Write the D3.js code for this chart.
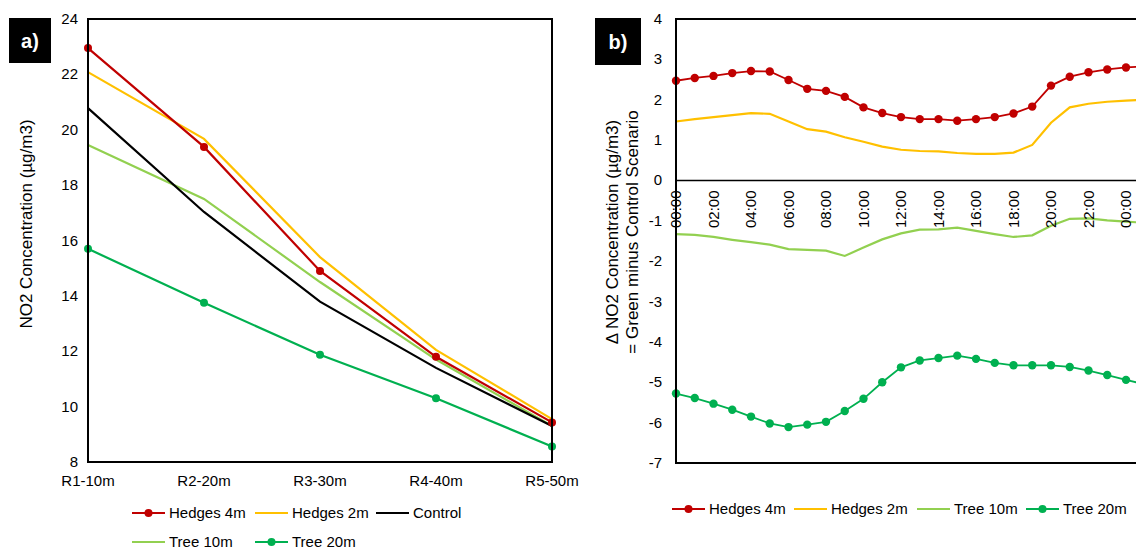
<!DOCTYPE html>
<html>
<head>
<meta charset="utf-8">
<script src="https://cdn.jsdelivr.net/npm/d3@7"></script>
<style>
  body { margin: 0; background: #fff; }
  svg { display: block; font-family: "Liberation Sans", Arial, sans-serif; }
</style>
</head>
<body>
<svg id="chart" width="1136" height="549"></svg>
<script>
// ---- panel a) data
const sites = ["R1-10m", "R2-20m", "R3-30m", "R4-40m", "R5-50m"];
const hedges4m = [22.95, 19.38, 14.9, 11.8, 9.43];
const hedges2m = [22.08, 19.67, 15.4, 12.05, 9.55];
const control = [20.78, 17.03, 13.79, 11.4, 9.3];
const tree10m = [19.45, 17.5, 14.5, 11.7, 9.3];
const tree20m = [15.7, 13.75, 11.87, 10.3, 8.56];
const yTicksA = [8, 10, 12, 14, 16, 18, 20, 22, 24];

// ---- panel b) data (hourly difference, green minus control)
const hours = d3.range(0, 26);
const dHedges4m = [2.47, 2.54, 2.59, 2.66, 2.71, 2.70, 2.49, 2.27, 2.22, 2.07, 1.81, 1.67, 1.57, 1.52, 1.52, 1.48, 1.52, 1.57, 1.66, 1.83, 2.35, 2.57, 2.68, 2.75, 2.80, 2.83];
const dHedges2m = [1.46, 1.52, 1.57, 1.62, 1.67, 1.65, 1.46, 1.27, 1.21, 1.07, 0.96, 0.84, 0.76, 0.73, 0.72, 0.68, 0.66, 0.66, 0.69, 0.88, 1.43, 1.81, 1.90, 1.95, 1.98, 2.00];
const dTree10m = [-1.33, -1.35, -1.40, -1.47, -1.53, -1.59, -1.70, -1.72, -1.74, -1.87, -1.66, -1.46, -1.31, -1.22, -1.21, -1.17, -1.25, -1.33, -1.40, -1.36, -1.12, -0.95, -0.94, -0.99, -1.02, -1.05];
const dTree20m = [-5.28, -5.39, -5.53, -5.68, -5.85, -6.02, -6.11, -6.05, -5.98, -5.71, -5.41, -5.0, -4.63, -4.46, -4.40, -4.34, -4.42, -4.52, -4.58, -4.58, -4.58, -4.62, -4.71, -4.82, -4.94, -5.05];
const hourTicks = d3.range(0, 25, 2);
const hourLabels = ["00:00", "02:00", "04:00", "06:00", "08:00", "10:00", "12:00", "14:00", "16:00", "18:00", "20:00", "22:00", "00:00"];
const yTicksB = [-7, -6, -5, -4, -3, -2, -1, 0, 1, 2, 3, 4];

const colors = { h4: "#C00000", h2: "#FFC000", ctrl: "#000000", t10: "#92D050", t20: "#00B050" };

const svg = d3.select("#chart");
const FS = 15;      // ticks and legend
const TITLE_FS = 17; // axis titles

function panelTag(x, y, w, h, label) {
    svg.append("rect").attr("x", x).attr("y", y).attr("width", w).attr("height", h).attr("fill", "#000");
    svg.append("text").attr("x", x + w / 2).attr("y", y + h / 2 + 7)
        .attr("text-anchor", "middle").attr("fill", "#fff")
        .attr("font-weight", "bold").attr("font-size", 20).text(label);
}

function legendItem(g, x, y, color, marker, label) {
    g.append("line").attr("x1", x).attr("x2", x + 33).attr("y1", y).attr("y2", y)
        .attr("stroke", color).attr("stroke-width", 2);
    if (marker) g.append("circle").attr("cx", x + 16.5).attr("cy", y).attr("r", 4).attr("fill", color);
    g.append("text").attr("x", x + 37).attr("y", y + 5).attr("font-size", FS).attr("fill", "#000").text(label);
}

// ================= panel a)
{
    const x = d3.scalePoint().domain(sites).range([88, 552]);
    const y = d3.scaleLinear().domain([8, 24]).range([462, 19]);
    const g = svg.append("g");

    const series = [
        { v: tree10m, c: colors.t10, m: false },
        { v: control, c: colors.ctrl, m: false },
        { v: tree20m, c: colors.t20, m: true },
        { v: hedges2m, c: colors.h2, m: false },
        { v: hedges4m, c: colors.h4, m: true }
    ];
    const line = d3.line().x((d, i) => x(sites[i])).y(d => y(d));
    series.forEach(s => {
        g.append("path").datum(s.v).attr("d", line)
            .attr("fill", "none").attr("stroke", s.c).attr("stroke-width", 2.2);
        if (s.m) {
            g.selectAll(null).data(s.v).enter().append("circle")
                .attr("cx", (d, i) => x(sites[i])).attr("cy", d => y(d))
                .attr("r", 4).attr("fill", s.c);
        }
    });

    // frame
    g.append("rect").attr("x", 88).attr("y", 19).attr("width", 464).attr("height", 443)
        .attr("fill", "none").attr("stroke", "#000").attr("stroke-width", 2);

    g.selectAll(".yt").data(yTicksA).enter().append("text")
        .attr("x", 78).attr("y", d => y(d) + 5).attr("text-anchor", "end")
        .attr("font-size", FS).text(d => d);
    g.selectAll(".xt").data(sites).enter().append("text")
        .attr("x", d => x(d)).attr("y", 486).attr("text-anchor", "middle")
        .attr("font-size", FS).text(d => d);

    g.append("text").attr("transform", "translate(32,224) rotate(-90)")
        .attr("text-anchor", "middle").attr("font-size", TITLE_FS)
        .text("NO2 Concentration (µg/m3)");

    panelTag(9, 18, 42, 45, "a)");

    const lg = svg.append("g");
    legendItem(lg, 132, 513, colors.h4, true, "Hedges 4m");
    legendItem(lg, 255, 513, colors.h2, false, "Hedges 2m");
    legendItem(lg, 376, 513, colors.ctrl, false, "Control");
    legendItem(lg, 132, 542, colors.t10, false, "Tree 10m");
    legendItem(lg, 255, 542, colors.t20, true, "Tree 20m");
}

// ================= panel b)
{
    const x = d3.scaleLinear().domain([0, 24]).range([676, 1126]);
    const y = d3.scaleLinear().domain([-7, 4]).range([463, 19]);
    const g = svg.append("g");

    const series = [
        { v: dHedges2m, c: colors.h2, m: false, w: 2.2 },
        { v: dTree10m, c: colors.t10, m: false, w: 2.2 },
        { v: dTree20m, c: colors.t20, m: true, w: 1.8 },
        { v: dHedges4m, c: colors.h4, m: true, w: 1.8 }
    ];
    const line = d3.line().x((d, i) => x(hours[i])).y(d => y(d));
    series.forEach(s => {
        g.append("path").datum(s.v).attr("d", line)
            .attr("fill", "none").attr("stroke", s.c).attr("stroke-width", s.w);
        if (s.m) {
            g.selectAll(null).data(s.v).enter().append("circle")
                .attr("cx", (d, i) => x(hours[i])).attr("cy", d => y(d))
                .attr("r", 4.2).attr("fill", s.c);
        }
    });

    // frame and zero axis
    g.append("line").attr("x1", 676).attr("x2", 1136).attr("y1", 19).attr("y2", 19).attr("stroke", "#000").attr("stroke-width", 2);
    g.append("line").attr("x1", 676).attr("x2", 1136).attr("y1", 463).attr("y2", 463).attr("stroke", "#000").attr("stroke-width", 2);
    g.append("line").attr("x1", 676).attr("x2", 1136).attr("y1", y(0)).attr("y2", y(0)).attr("stroke", "#000").attr("stroke-width", 1.5);
    g.append("line").attr("x1", 676).attr("x2", 676).attr("y1", 18).attr("y2", 464).attr("stroke", "#000").attr("stroke-width", 2);

    g.selectAll(".yt").data(yTicksB).enter().append("text")
        .attr("x", 662).attr("y", d => y(d) + 5).attr("text-anchor", "end")
        .attr("font-size", FS).text(d => d);

    g.selectAll(".xt").data(hourTicks).enter().append("text")
        .attr("transform", d => `translate(${x(d) + 5},${y(0) + 10}) rotate(-90)`)
        .attr("text-anchor", "end").attr("font-size", FS)
        .text((d, i) => hourLabels[i]);

    const yl = g.append("text").attr("transform", "translate(618,232) rotate(-90)")
        .attr("text-anchor", "middle").attr("font-size", TITLE_FS);
    yl.append("tspan").attr("x", 0).attr("dy", 0).text("Δ NO2 Concentration (µg/m3)");
    yl.append("tspan").attr("x", 0).attr("dy", 20).text("= Green minus Control Scenario");

    panelTag(595, 18, 46, 47, "b)");

    const lg = svg.append("g");
    legendItem(lg, 672, 509, colors.h4, true, "Hedges 4m");
    legendItem(lg, 794, 509, colors.h2, false, "Hedges 2m");
    legendItem(lg, 917, 509, colors.t10, false, "Tree 10m");
    legendItem(lg, 1026, 509, colors.t20, true, "Tree 20m");
}
</script>
</body>
</html>
